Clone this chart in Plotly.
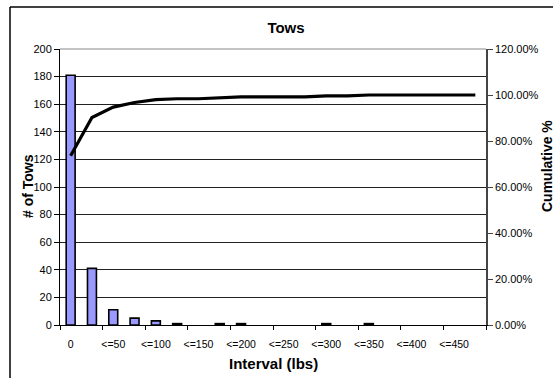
import plotly.graph_objects as go

# Tow weight intervals (lbs) and number of tows in each
intervals = ["0", "<=25", "<=50", "<=75", "<=100", "<=125", "<=150", "<=175",
             "<=200", "<=225", "<=250", "<=275", "<=300", "<=325", "<=350",
             "<=375", "<=400", "<=425", "<=450", "<=475"]
tow_counts = [181, 41, 11, 5, 3, 1, 0, 1, 1, 0, 0, 0, 1, 0, 1, 0, 0, 0, 0, 0]
cumulative_pct = [73.58, 90.24, 94.72, 96.75, 97.97, 98.37, 98.37, 98.78, 99.19, 99.19,
                  99.19, 99.19, 99.59, 99.59, 100.0, 100.0, 100.0, 100.0, 100.0, 100.0]

# Axis tick values
left_ticks = [0, 20, 40, 60, 80, 100, 120, 140, 160, 180, 200]
right_ticks = [0.0, 0.2, 0.4, 0.6, 0.8, 1.0, 1.2]

pos = list(range(len(intervals)))
label_pos = pos[::2]
label_text = intervals[::2]

# plot-area geometry in pixels
L, R, T, B = 60, 486, 49, 325
W, H = 555, 378

fig = go.Figure()
fig.add_trace(go.Bar(
    x=pos, y=tow_counts, width=0.42,
    marker=dict(color="#9999FF",
                line=dict(color="black", width=[1.6 if c > 0 else 0 for c in tow_counts])),
    yaxis="y", name="Frequency"))
fig.add_trace(go.Scatter(
    x=pos, y=[v / 100 for v in cumulative_pct], mode="lines",
    line=dict(color="black", width=3.2), yaxis="y2", name="Cumulative %"))

font = dict(family="Liberation Sans, Arial, sans-serif", color="black")

fig.update_layout(
    width=W, height=H,
    margin=dict(l=L, r=W - R, t=T, b=H - B),
    paper_bgcolor="white", plot_bgcolor="white",
    showlegend=False,
    font=dict(**font, size=11),
    title=dict(text="<b>Tows</b>", x=286 / W, xanchor="center",
               y=1 - 28 / H, yanchor="middle", font=dict(**font, size=15)),
    xaxis=dict(
        range=[-0.5, 19.5], tickmode="array", tickvals=label_pos, ticktext=label_text,
        ticks="outside", ticklen=9, tickcolor="rgba(0,0,0,0)",
        tickfont=dict(**font, size=10.5), showgrid=False, zeroline=False,
        showline=True, linecolor="black", linewidth=1,
        minor=dict(tickmode="linear", tick0=-0.5, dtick=2, ticks="outside",
                   ticklen=4, tickcolor="black", tickwidth=1, showgrid=False)),
    yaxis=dict(
        range=[0, 200], tickmode="array", tickvals=left_ticks, ticks="outside",
        ticklen=5, tickcolor="black", tickfont=dict(**font, size=11),
        showgrid=True, gridcolor="#222", gridwidth=1, zeroline=False,
        showline=True, linecolor="black", linewidth=1),
    yaxis2=dict(
        range=[0, 1.2], overlaying="y", side="right", tickmode="array",
        tickvals=right_ticks, tickformat=".2%", ticks="outside", ticklen=5,
        tickcolor="#444", tickfont=dict(**font, size=11), showgrid=False,
        zeroline=False, showline=True, linecolor="#444", linewidth=1.5),
)

# Axis titles
def px_x(x):
    return (x - L) / (R - L)

def px_y(y):
    return (B - y) / (B - T)

fig.add_annotation(text="<b>Interval (lbs)</b>", xref="paper", yref="paper",
                   x=px_x(273), y=px_y(363), showarrow=False,
                   xanchor="center", yanchor="middle", font=dict(**font, size=15))
fig.add_annotation(text="<b># of Tows</b>", xref="paper", yref="paper",
                   x=px_x(28), y=px_y(186), showarrow=False, textangle=-90,
                   xanchor="center", yanchor="middle", font=dict(**font, size=14))
fig.add_annotation(text="<b>Cumulative %</b>", xref="paper", yref="paper",
                   x=px_x(547), y=px_y(166), showarrow=False, textangle=-90,
                   xanchor="center", yanchor="middle", font=dict(**font, size=14))

# Top edge of the plot area and the outer chart frame
fig.add_shape(type="line", xref="paper", yref="paper", x0=0, x1=1, y0=1, y1=1,
              line=dict(color="#888", width=1))
fig.add_shape(type="line", xref="paper", yref="paper",
              x0=px_x(10), x1=px_x(553), y0=px_y(7), y1=px_y(7),
              line=dict(color="black", width=1.5))
fig.add_shape(type="line", xref="paper", yref="paper",
              x0=px_x(10), x1=px_x(10), y0=px_y(7), y1=px_y(400),
              line=dict(color="black", width=1.5))

fig.write_html("out.html")
